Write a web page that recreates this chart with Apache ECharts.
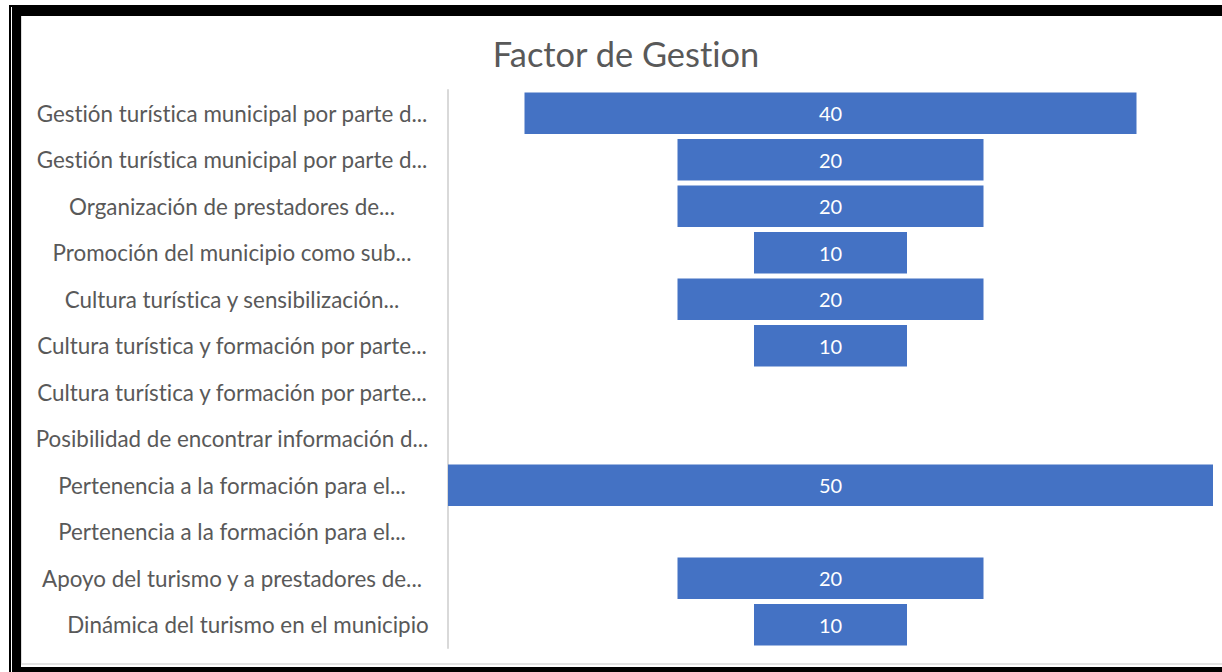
<!DOCTYPE html>
<html>
<head>
<meta charset="utf-8">
<script src="https://cdn.jsdelivr.net/npm/echarts@6/dist/echarts.min.js"></script>
<style>
  html, body { margin: 0; padding: 0; width: 1222px; height: 672px; overflow: hidden; background: #fff; }
  .frame-thin { position: absolute; left: 9px; top: 5px; width: 1400px; height: 800px; border-left: 2px solid #000; border-top: 2px solid #000; }
  .frame-thick { position: absolute; left: 12px; top: 7px; width: 1400px; height: 800px; border-left: 9px solid #000; border-top: 9px solid #000; }
  .frame-bottom { position: absolute; left: 12px; top: 667px; width: 1300px; height: 10px; background: #000; }
  .panel { position: absolute; left: 21px; top: 16px; width: 1300px; height: 649px; background: #fff; border-left: 1px solid #dcdcdc; border-bottom: 2px solid #e3e3e3; box-sizing: border-box; }
  #chart { position: absolute; left: 0; top: 0; width: 1222px; height: 672px; font-variant-ligatures: none; }
  #chart text { font-variant-ligatures: none; }
</style>
</head>
<body>
<div class="frame-thin"></div>
<div class="frame-thick"></div>
<div class="frame-bottom"></div>
<div class="panel"></div>
<div id="chart"></div>
<script>
// Categories of the management factor, top to bottom
const categories = [
  'Gestión turística municipal por parte d...',
  'Gestión turística municipal por parte d...',
  'Organización de prestadores de...',
  'Promoción del municipio como sub...',
  'Cultura turística y sensibilización...',
  'Cultura turística y formación por parte...',
  'Cultura turística y formación por parte...',
  'Posibilidad de encontrar información d...',
  'Pertenencia a la formación para el...',
  'Pertenencia a la formación para el...',
  'Apoyo del turismo y a prestadores de...',
  'Dinámica del turismo en el municipio'
];
const values = [40, 20, 20, 10, 20, 10, 0, 0, 50, 0, 20, 10];

// Funnel bars are centred: an invisible spacer pushes each bar to the middle
const maxValue = Math.max(...values);
const spacers = values.map(v => (maxValue - v) / 2);

const labelFont = { fontFamily: 'Lato', fontSize: 22.4, color: '#595959' };

const chart = echarts.init(document.getElementById('chart'), null, { renderer: 'svg' });
chart.setOption({
  backgroundColor: 'transparent',
  animation: false,
  title: {
    text: 'Factor de Gestion',
    left: 621, top: 31, textAlign: 'center',
    textStyle: { fontFamily: 'Lato', fontSize: 34.4, fontWeight: 'normal', color: '#595959' }
  },
  grid: { left: 448, right: 9, top: 90, bottom: 24, containLabel: false },
  xAxis: { type: 'value', min: 0, max: maxValue, show: false },
  yAxis: {
    type: 'category',
    data: categories,
    inverse: true,
    axisLine: { show: true, lineStyle: { color: '#d9d9d9', width: 2 } },
    axisTick: { show: false },
    axisLabel: {
      align: 'center', margin: 216,
      ...labelFont,
      // full (untruncated) names sit flush against the axis side
      formatter: v => (v.endsWith('...') ? '{t|' + v + '}' : '{f|' + v + '}'),
      rich: {
        t: { ...labelFont },
        f: { ...labelFont, padding: [0, 0, 0, 32] }
      }
    }
  },
  series: [
    {
      type: 'bar', stack: 'funnel', data: spacers, silent: true,
      itemStyle: { color: 'transparent' }, barCategoryGap: '11%'
    },
    {
      type: 'bar', stack: 'funnel', data: values, barCategoryGap: '11%',
      itemStyle: { color: '#4472C4' },
      label: {
        show: true, position: 'inside', color: '#ffffff',
        fontFamily: 'Lato', fontSize: 20,
        formatter: p => (p.value ? String(p.value) : '')
      }
    }
  ]
});
</script>
</body>
</html>
